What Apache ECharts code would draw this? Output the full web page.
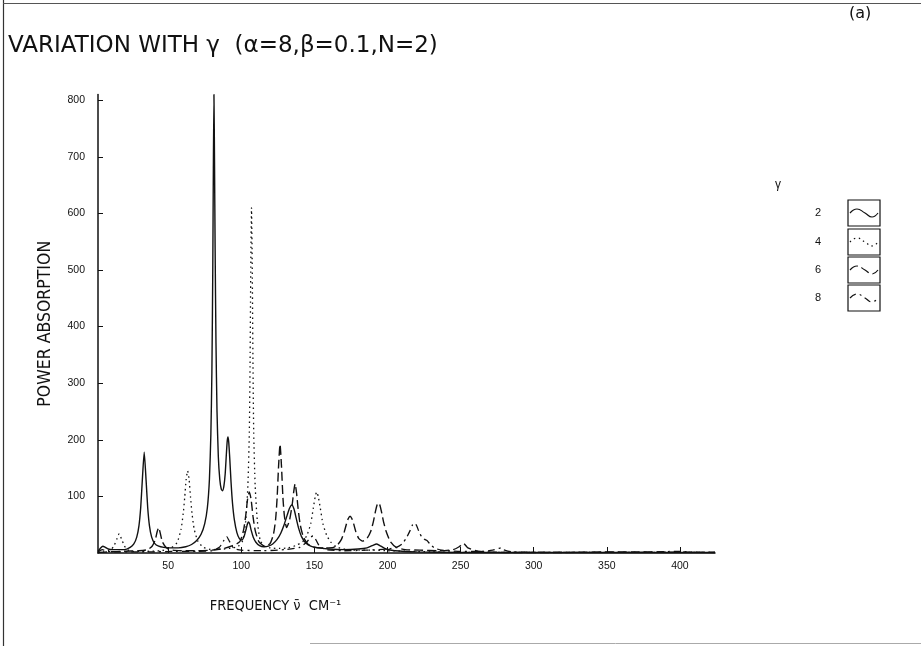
<!DOCTYPE html>
<html>
<head>
<meta charset="utf-8">
<script src="https://cdn.jsdelivr.net/npm/echarts@6/dist/echarts.min.js"></script>
<style>html,body{margin:0;padding:0;background:#fff;}#chart{width:921px;height:646px;}</style>
</head>
<body>
<div id="chart"></div>
<script>
// ---- data (frequency cm^-1, power absorption) ----
const gammaLabels = ['2', '4', '6', '8'];
const xTickLabels = [50, 100, 150, 200, 250, 300, 350, 400];
const yTickLabels = [100, 200, 300, 400, 500, 600, 700, 800];

const gamma2 = [
[2,3],[3.5,8],[5.3,12],[7,10],[9,7],[12,6],[16,6],[20,6],[24,10],[26.5,16],[28.5,28],[30,48],[31.2,80],[32.3,128],[33.6,178],[34.9,128],[36,80],[37.2,48],[38.7,28],[40.7,17],[43.5,12],[47,10],[52,9],[57,9],[62,11],[66,15],[69.5,22],[72.5,33],[75,52],[76.8,80],[78.2,130],[79.2,210],[79.9,320],[80.5,500],[80.9,680],[81.3,810],[81.7,690],[82.1,540],[82.7,370],[83.4,250],[84.3,170],[85.3,130],[86.3,113],[87.2,110],[88.1,118],[89,140],[89.8,175],[90.4,198],[90.9,205],[91.4,196],[92.1,168],[93,125],[94,88],[95.3,58],[97,36],[98.8,25],[100.5,23],[102,30],[103.3,42],[104.3,52],[105,55],[105.8,51],[106.8,40],[108.2,28],[110,19],[112.5,13],[115.5,11],[118.5,12],[121.5,16],[124.5,24],[127,35],[129.3,50],[131.3,66],[133,79],[134.5,85],[136,78],[137.5,62],[139.2,44],[141.2,29],[144,18],[147.5,12],[152,9],[160,7],[170,6],[180,7],[186,9],[189.5,13],[192.7,16],[195.5,12],[199,7],[205,4],[220,2],[250,1],[300,1],[350,1],[424,1]
];
const gamma4 = [
[2,1],[6,2],[9,4],[11,6],[13,13],[14.8,24],[16.5,34],[18.2,24],[20,13],[22,6],[26,3],[35,3],[45,4],[52,9],[56,18],[58.8,42],[60.3,70],[61.3,98],[62.3,130],[63.3,145],[64.3,130],[65.3,98],[66.3,70],[67.8,42],[70.3,21],[74,10],[80,6],[88,7],[94,9],[98,12],[101,22],[103,56],[104.5,118],[105.5,213],[106,333],[106.5,505],[107,610],[107.5,505],[108,333],[108.5,213],[109.5,118],[111,56],[113,22],[116,12],[120,9],[126,8],[132,9],[137,13],[142,20],[145,32],[147.5,52],[149.3,80],[150.6,100],[151.6,108],[152.6,100],[154,80],[155.8,52],[158.3,32],[161,20],[165,11],[172,6],[180,5],[190,5],[200,4],[215,3],[230,2],[260,1],[300,1],[350,1],[424,1]
];
const gamma6 = [
[2,1],[10,2],[20,3],[30,4],[36,6],[39,12],[41,22],[42.5,38],[43.5,45],[44.5,36],[46,20],[48.5,10],[53,5],[60,4],[70,4],[80,5],[88,8],[94,13],[99,20],[101.5,40],[103,65],[104.3,95],[105.5,108],[106.7,95],[108,65],[109.5,40],[112,20],[116,12],[119.5,16],[122,33],[123.5,60],[124.5,97],[125.5,153],[126.5,192],[127.5,153],[128.5,97],[129.5,65],[131,45],[133,58],[134.8,85],[135.8,107],[136.8,122],[137.8,106],[138.8,80],[140.3,50],[142.5,28],[145.5,16],[149,11],[156,9],[163,10],[166,15],[168.5,24],[170.5,38],[172,52],[173.2,61],[174.4,65],[175.6,61],[176.8,52],[178.3,38],[180.3,26],[183,21],[186,26],[188.5,38],[190.3,55],[191.8,74],[193,86],[193.8,88],[194.6,86],[195.8,74],[197.3,55],[199.1,38],[202,20],[206,10],[212,6],[222,5],[235,4],[245,6],[249,11],[252,17],[255,9],[262,3],[280,1],[320,1],[360,2],[424,1]
];
const gamma8 = [
[2,2],[5,6],[8,3],[15,2],[25,2],[40,2],[55,3],[70,3],[80,4],[85,10],[88,22],[90,29],[92,20],[95,8],[100,5],[115,4],[130,6],[140,10],[145,20],[147.5,28],[149,30],[150.5,26],[153,14],[158,6],[170,4],[185,5],[200,7],[206,10],[210,16],[213,27],[215.5,40],[217.2,50],[218.5,53],[219.8,49],[221.5,38],[223.5,28],[225.5,24],[227,22],[229,16],[232,9],[237,5],[250,3],[265,3],[272,5],[276,8],[277.5,9],[279,6],[285,2],[320,1],[370,1],[400,3],[410,1],[424,1]
];

// ---- chart ----
const ink = '#111';
const plotterFont = '"DejaVu Sans Condensed", "DejaVu Sans", sans-serif';
const titleFont = '"DejaVu Sans", sans-serif';
const labelFont = '"Liberation Sans", Arial, sans-serif';

const seriesStyles = [
  {data: gamma2, type: 'solid', width: 1.4},
  {data: gamma4, type: [1.5, 3.5], width: 1.3},
  {data: gamma6, type: [9, 4], width: 1.4},
  {data: gamma8, type: [7, 4, 2, 4], width: 1.3}
];

// legend boxes
const boxX = 848, boxW = 32, boxH = 26;
const boxTops = [200, 229, 257, 285];
const legendGraphics = [];
legendGraphics.push({type: 'text', left: 775, top: 179, style: {text: 'γ', font: '12px ' + labelFont, fill: ink}});
gammaLabels.forEach((g, i) => {
  const t = boxTops[i];
  legendGraphics.push({type: 'text', x: 815, y: t + boxH / 2, style: {text: g, font: '11px ' + labelFont, fill: ink, textVerticalAlign: 'middle'}});
  legendGraphics.push({type: 'rect', shape: {x: boxX, y: t, width: boxW, height: boxH}, style: {fill: 'none', stroke: ink, lineWidth: 1.2}});
  legendGraphics.push({type: 'polyline', shape: {smooth: 0.5, points: [[boxX + 2, t + 13], [boxX + 9, t + 9], [boxX + 17, t + 13], [boxX + 24, t + 17], [boxX + 30, t + 13]]},
    style: {fill: 'none', stroke: ink, lineWidth: 1.2, lineDash: seriesStyles[i].type === 'solid' ? null : seriesStyles[i].type}});
});

const option = {
  backgroundColor: '#fff',
  animation: false,
  title: [
    {text: 'VARIATION WITH γ  (α=8,β=0.1,N=2)', left: 3, top: 30,
     textStyle: {fontFamily: titleFont, fontSize: 23, fontWeight: 'normal', color: ink}},
    {text: '(a)', left: 844, top: 1,
     textStyle: {fontFamily: titleFont, fontSize: 16, fontWeight: 'normal', color: ink}}
  ],
  grid: {left: 98, right: 206, top: 94.5, bottom: 93, containLabel: false},
  xAxis: {
    type: 'value', min: 2, max: 424,
    name: 'FREQUENCY ν̄  CM⁻¹', nameLocation: 'middle', nameGap: 46,
    nameTextStyle: {fontFamily: plotterFont, fontSize: 14.5, color: ink, padding: [0, 262, 0, 0]},
    axisLine: {show: true, onZero: false, lineStyle: {color: ink, width: 1.5}},
    axisTick: {show: true, inside: true, length: 6, customValues: xTickLabels, lineStyle: {color: ink, width: 1}},
    axisLabel: {show: true, customValues: xTickLabels, margin: 8, fontFamily: labelFont, fontSize: 10.5, color: ink},
    splitLine: {show: false}
  },
  yAxis: {
    type: 'value', min: 0, max: 810,
    name: 'POWER ABSORPTION', nameLocation: 'middle', nameGap: 44, nameRotate: 90,
    nameTextStyle: {fontFamily: plotterFont, fontSize: 17.5, color: ink},
    axisLine: {show: true, lineStyle: {color: ink, width: 1.5}},
    axisTick: {show: true, inside: true, length: 5, customValues: yTickLabels, lineStyle: {color: ink, width: 1}},
    axisLabel: {show: true, customValues: yTickLabels, margin: 13, fontFamily: labelFont, fontSize: 10.5, color: ink},
    splitLine: {show: false}
  },
  series: seriesStyles.map((s, i) => ({
    name: 'γ=' + gammaLabels[i],
    type: 'line', data: s.data, symbol: 'none', smooth: 0.2,
    lineStyle: {color: ink, width: s.width, type: s.type},
    z: 4 - i
  })),
  graphic: [
    {type: 'line', shape: {x1: 3.5, y1: 0, x2: 3.5, y2: 646}, style: {stroke: '#333', lineWidth: 1.2}},
    {type: 'line', shape: {x1: 3, y1: 3.5, x2: 921, y2: 3.5}, style: {stroke: '#555', lineWidth: 1}},
    {type: 'line', shape: {x1: 310, y1: 643.5, x2: 921, y2: 643.5}, style: {stroke: '#aaa', lineWidth: 1}}
  ].concat(legendGraphics)
};

const chart = echarts.init(document.getElementById('chart'), null, {renderer: 'canvas'});
chart.setOption(option);
</script>
</body>
</html>
